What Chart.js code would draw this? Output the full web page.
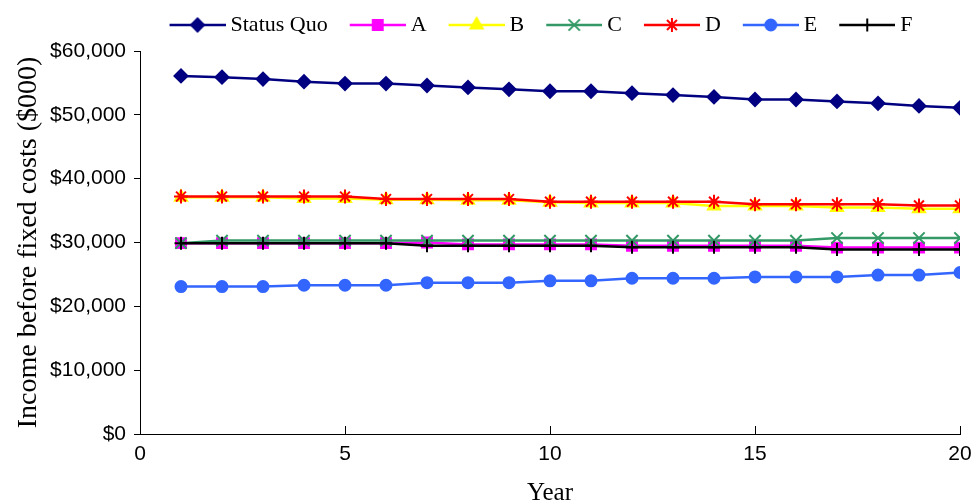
<!DOCTYPE html>
<html>
<head>
<meta charset="utf-8">
<script src="https://cdn.jsdelivr.net/npm/chart.js@4/dist/chart.umd.min.js"></script>
<style>
  body { margin: 0; background: #fff; }
</style>
</head>
<body>
<canvas id="incomeChart" width="973" height="504"></canvas>
<script>
const years = [1, 2, 3, 4, 5, 6, 7, 8, 9, 10, 11, 12, 13, 14, 15, 16, 17, 18, 19, 20]
const yTicks = [0, 10000, 20000, 30000, 40000, 50000, 60000]
const xTicks = [0, 5, 10, 15, 20]

const seriesNames = ['Status Quo', 'A', 'B', 'C', 'D', 'E', 'F']
const statusQuo = [56100, 55900, 55600, 55200, 54900, 54900, 54600, 54300, 54000, 53700, 53700, 53400, 53100, 52800, 52400, 52400, 52100, 51800, 51400, 51100]
const optionA = [29900, 29900, 29900, 29900, 29900, 29900, 30000, 29700, 29700, 29700, 29700, 29500, 29500, 29500, 29500, 29500, 29200, 29200, 29200, 29200]
const optionB = [37100, 37100, 37100, 36900, 36900, 36700, 36700, 36600, 36600, 36300, 36200, 36200, 36200, 35700, 35700, 35700, 35500, 35500, 35300, 35300]
const optionC = [29900, 30300, 30300, 30300, 30300, 30300, 30300, 30300, 30300, 30300, 30300, 30300, 30300, 30300, 30300, 30300, 30700, 30700, 30700, 30700]
const optionD = [37200, 37200, 37200, 37200, 37200, 36800, 36800, 36800, 36800, 36400, 36400, 36400, 36400, 36400, 36000, 36000, 36000, 36000, 35800, 35800]
const optionE = [23100, 23100, 23100, 23300, 23300, 23300, 23700, 23700, 23700, 24000, 24000, 24400, 24400, 24400, 24600, 24600, 24600, 24900, 24900, 25300]
const optionF = [29900, 29900, 29900, 29900, 29900, 29900, 29500, 29500, 29500, 29500, 29500, 29250, 29250, 29250, 29250, 29250, 28900, 28900, 28900, 28900]

const allSeries = [statusQuo, optionA, optionB, optionC, optionD, optionE, optionF]
const colors = ['#000080', '#FF00FF', '#FFFF00', '#339966', '#FF0000', '#3366FF', '#000000']
const markers = ['rectRot', 'rect', 'triangle', 'crossRot', 'star', 'circle', 'cross']
const markerSizes = [6.5, 7, 7, 8, 7, 5.5, 6.5]

const serif = 'Liberation Serif'

function buildDatasets() {
  return seriesNames.map((name, i) => ({
    label: name,
    data: years.map((yr, j) => ({x: yr, y: allSeries[i][j]})),
    borderColor: colors[i],
    backgroundColor: colors[i],
    pointStyle: markers[i],
    pointRadius: markerSizes[i],
    pointHoverRadius: markerSizes[i],
    pointBackgroundColor: colors[i],
    pointBorderColor: colors[i],
    pointBorderWidth: 2,
    borderWidth: 2.5,
    tension: 0,
    // later series sit on top, like the original
    order: seriesNames.length - i
  }))
}

// legend icon: a short line with the marker in the middle
function legendIcon(i) {
  const c = document.createElement('canvas')
  c.width = 78
  c.height = 20
  const ctx = c.getContext('2d')
  ctx.strokeStyle = colors[i]
  ctx.fillStyle = colors[i]
  ctx.lineWidth = 2.5
  ctx.beginPath()
  ctx.moveTo(22, 10)
  ctx.lineTo(78, 10)
  ctx.stroke()
  ctx.lineWidth = 2
  Chart.helpers.drawPoint(ctx, {pointStyle: markers[i], radius: markerSizes[i], borderWidth: 2}, 50, 10)
  return c
}

const legendLayout = {
  id: 'legendLayout',
  beforeLayout(chart) {
    const lg = chart.legend
    if (lg && !lg._fixed) {
      const fit = lg.fit
      lg.fit = function () {
        fit.call(this)
        this.height = 43
      }
      lg._fixed = true
    }
  },
  afterLayout(chart) {
    chart.legend.left += 53
    chart.legend.right += 53
  }
}

const ctx = document.getElementById('incomeChart').getContext('2d')
Chart.defaults.font.family = 'Liberation Sans'
Chart.defaults.color = '#000'

const chart = new Chart(ctx, {
  type: 'line',
  data: {datasets: buildDatasets()},
  plugins: [legendLayout],
  options: {
    responsive: false,
    animation: false,
    layout: {padding: {left: 0, right: 13, top: 8, bottom: 0}},
    plugins: {
      tooltip: {enabled: false},
      legend: {
        position: 'top',
        labels: {
          usePointStyle: true,
          pointStyleWidth: 66,
          padding: 6,
          font: {family: serif, size: 22},
          color: '#000',
          sort: (a, b) => a.datasetIndex - b.datasetIndex,
          generateLabels(chart) {
            const items = Chart.defaults.plugins.legend.labels.generateLabels(chart)
            items.forEach(item => { item.pointStyle = legendIcon(item.datasetIndex) })
            return items
          }
        }
      }
    },
    scales: {
      x: {
        type: 'linear',
        min: 0,
        max: 20,
        afterFit(scale) {
          scale.height = 70
          scale.paddingLeft = 0
          scale.paddingRight = 0
        },
        afterBuildTicks(scale) { scale.ticks = xTicks.map(v => ({value: v})) },
        grid: {drawOnChartArea: false, drawTicks: true, tickLength: -8, color: '#000'},
        border: {display: true, color: '#000', width: 1},
        ticks: {padding: 16, font: {size: 21}, color: '#000', maxRotation: 0},
        title: {
          display: true,
          text: 'Year',
          font: {family: serif, size: 25},
          color: '#000',
          padding: {top: 0, bottom: -4}
        }
      },
      y: {
        min: 0,
        max: 60000,
        afterFit(scale) { scale.width = 140 },
        afterBuildTicks(scale) { scale.ticks = yTicks.map(v => ({value: v})) },
        grid: {drawOnChartArea: false, drawTicks: true, tickLength: 6, color: '#000'},
        border: {display: true, color: '#000', width: 1},
        ticks: {
          padding: 8,
          font: {size: 21},
          color: '#000',
          callback: v => '$' + v.toLocaleString('en-US')
        },
        title: {
          display: true,
          text: 'Income before fixed costs ($000)',
          font: {family: serif, size: 28},
          color: '#000',
          padding: {top: 12, bottom: 0}
        }
      }
    }
  }
})
</script>
</body>
</html>
